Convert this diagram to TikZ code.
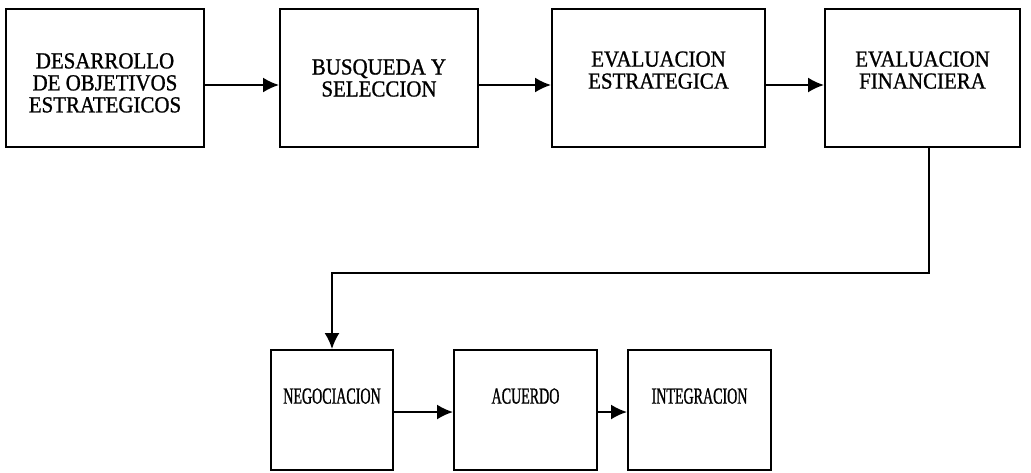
\documentclass[tikz,border=0pt]{standalone}
\usepackage{fontspec}
\setmainfont{Liberation Serif}
\newfontfamily\wideserif{Liberation Serif}[FakeStretch=0.91,FakeBold=1]
\newfontfamily\narrowserif{Liberation Serif}[FakeStretch=0.61,FakeBold=1]
\usetikzlibrary{arrows.meta}

\begin{document}
\begin{tikzpicture}[x=0.5pt,y=-0.5pt,line width=1pt,
  box/.style={draw,align=center,inner sep=0pt,minimum height=69pt,
    font=\wideserif\fontsize{11.5pt}{11pt}\selectfont},
  lowbox/.style={draw,inner sep=0pt,minimum height=60pt,text depth=14pt,
    font=\narrowserif\fontsize{11.5pt}{11pt}\selectfont},
  flow/.style={-{Latex[length=8pt,width=7.5pt]}}]
  \useasboundingbox (0,0) rectangle (1031,472);
  % upper row
  \node[box,minimum width=99pt,text height=34.5pt] (b1) at (105,78) {DESARROLLO\\DE OBJETIVOS\\ESTRATEGICOS};
  \node[box,minimum width=99pt] (b2) at (379,78) {BUSQUEDA Y\\SELECCION};
  \node[box,minimum width=106.5pt,text depth=8pt] (b3) at (658.5,78) {EVALUACION\\ESTRATEGICA};
  \node[box,minimum width=97.5pt,text depth=8pt] (b4) at (922.5,78) {EVALUACION\\FINANCIERA};
  % lower row
  \node[lowbox,minimum width=61pt] (b5) at (332,410) {NEGOCIACION};
  \node[lowbox,minimum width=71.5pt] (b6) at (525.5,410) {ACUERDO};
  \node[lowbox,minimum width=71.5pt] (b7) at (699.5,410) {INTEGRACION};
  \coordinate (turn) at (332,273);

  \path[flow]
    ([yshift=-3.5pt]b1.east) edge ([yshift=-3.5pt]b2.west)
    ([yshift=-3.5pt]b2.east) edge ([yshift=-3.5pt]b3.west)
    ([yshift=-3.5pt]b3.east) edge ([yshift=-3.5pt]b4.west)
    ([yshift=-1pt]b5.east) edge ([yshift=-1pt]b6.west)
    ([yshift=-1pt]b6.east) edge ([yshift=-1pt]b7.west);
  \draw[flow] ([xshift=3.25pt]b4.south) |- (turn) -| (b5.north);
\end{tikzpicture}
\end{document}
